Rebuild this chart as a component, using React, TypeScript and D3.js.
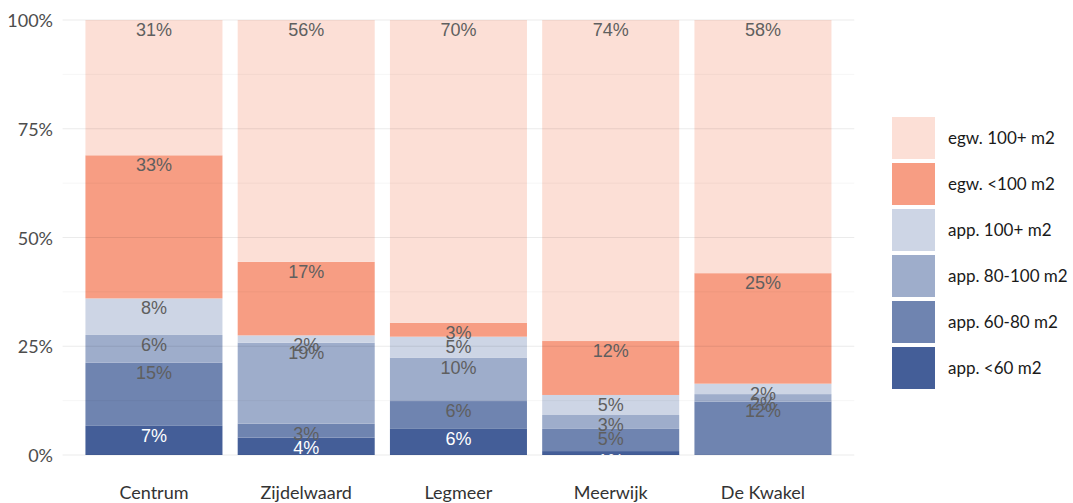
import React, { useEffect, useRef } from "react";
import * as d3 from "d3";

const categories = ["Centrum", "Zijdelwaard", "Legmeer", "Meerwijk", "De Kwakel"];
const seriesNames = [
  "app. <60 m2",
  "app. 60-80 m2",
  "app. 80-100 m2",
  "app. 100+ m2",
  "egw. <100 m2",
  "egw. 100+ m2",
];
const seriesColors = ["#445e98", "#6f84b0", "#9eadcb", "#cdd5e5", "#f79d83", "#fcdfd6"];
// percentages per series, in category order
const app60 = [6.7, 4.0, 6.0, 0.9, 0];
const app6080 = [14.5, 3.2, 6.4, 5.1, 12.3];
const app80100 = [6.4, 18.6, 10.0, 3.2, 1.7];
const app100 = [8.4, 1.7, 4.8, 4.6, 2.4];
const egw100 = [32.9, 16.9, 3.2, 12.4, 25.4];
const egw100plus = [31.1, 55.6, 69.6, 73.8, 58.2];
const yTicks = [0, 25, 50, 75, 100];

const seriesValues = [app60, app6080, app80100, app100, egw100, egw100plus];

const App = () => {
  const ref = useRef<SVGSVGElement>(null);
  const width = 1073;
  const height = 503;

  useEffect(() => {
    document.body.style.margin = "0";
    const svg = d3.select(ref.current);
    svg.selectAll("*").remove();

    const rows = categories.map((c, i) => {
      const r: any = { cat: c };
      seriesNames.forEach((s, j) => (r[s] = seriesValues[j][i]));
      return r;
    });
    const stacked = d3.stack().keys(seriesNames)(rows);

    const x = d3
      .scaleBand()
      .domain(categories)
      .range([62.6, 854.3])
      .paddingInner(0.1)
      .paddingOuter(0.15);
    const y = d3.scaleLinear().domain([0, 100]).range([455, 20]);
    const color = d3.scaleOrdinal<string>().domain(seriesNames).range(seriesColors);

    svg.append("defs")
      .append("clipPath")
      .attr("id", "panel")
      .append("rect")
      .attr("x", 62.6)
      .attr("y", 20)
      .attr("width", 854.3 - 62.6)
      .attr("height", 435);

    // bars
    const g = svg.append("g").attr("clip-path", "url(#panel)");
    stacked.forEach((layer: any, j) => {
      g.append("g")
        .selectAll("rect")
        .data(layer)
        .join("rect")
        .attr("x", (d: any) => x(d.data.cat))
        .attr("width", x.bandwidth())
        .attr("y", (d: any) => y(d[1]))
        .attr("height", (d: any) => y(d[0]) - y(d[1]))
        .attr("fill", color(seriesNames[j]));
    });

    // grid lines, drawn faint over bars
    const minor = d3.range(12.5, 100, 25);
    svg.append("g")
      .selectAll("line")
      .data(minor)
      .join("line")
      .attr("x1", 62.6)
      .attr("x2", 854.3)
      .attr("y1", (d) => y(d))
      .attr("y2", (d) => y(d))
      .attr("stroke", "#000")
      .attr("stroke-opacity", 0.04);
    svg.append("g")
      .selectAll("line")
      .data(yTicks)
      .join("line")
      .attr("x1", 62.6)
      .attr("x2", 854.3)
      .attr("y1", (d) => y(d))
      .attr("y2", (d) => y(d))
      .attr("stroke", "#000")
      .attr("stroke-opacity", 0.08);

    // segment labels
    stacked.forEach((layer: any, j) => {
      g.append("g")
        .selectAll("text")
        .data(layer.filter((d: any) => d[1] - d[0] > 0))
        .join("text")
        .attr("x", (d: any) => x(d.data.cat)! + x.bandwidth() / 2)
        .attr("y", (d: any) => y(d[1]) + 16)
        .attr("text-anchor", "middle")
        .style("font-family", "Liberation Sans, Arial, sans-serif")
        .style("font-size", "18px")
        .style("fill", j === 0 ? "#ffffff" : "#5f5f5f")
        .text((d: any) => `${Math.round(d[1] - d[0])}%`);
    });

    // y axis labels
    svg.append("g")
      .selectAll("text")
      .data(yTicks)
      .join("text")
      .attr("x", 53)
      .attr("y", (d) => y(d) + 7)
      .attr("text-anchor", "end")
      .style("font-family", "Lato, sans-serif")
      .style("font-size", "18px")
      .style("fill", "#4d4d4d")
      .text((d) => `${d}%`);

    // x axis labels
    svg.append("g")
      .selectAll("text")
      .data(categories)
      .join("text")
      .attr("x", (d) => x(d)! + x.bandwidth() / 2)
      .attr("y", 499)
      .attr("text-anchor", "middle")
      .style("font-family", "Lato, sans-serif")
      .style("font-size", "18px")
      .style("fill", "#333")
      .text((d) => d);

    // legend, top series first
    const legend = svg.append("g").attr("transform", "translate(892,117)");
    const order = seriesNames.slice().reverse();
    const item = legend
      .selectAll("g")
      .data(order)
      .join("g")
      .attr("transform", (d, i) => `translate(0,${i * 46})`);
    item.append("rect")
      .attr("width", 43)
      .attr("height", 42)
      .attr("fill", (d) => color(d));
    item.append("text")
      .attr("x", 56)
      .attr("y", 21)
      .attr("dy", "0.35em")
      .style("font-family", "Lato, sans-serif")
      .style("font-size", "17px")
      .style("fill", "#1a1a1a")
      .text((d) => d);
  }, []);

  return <svg ref={ref} width={width} height={height}></svg>;
};

export default App;
